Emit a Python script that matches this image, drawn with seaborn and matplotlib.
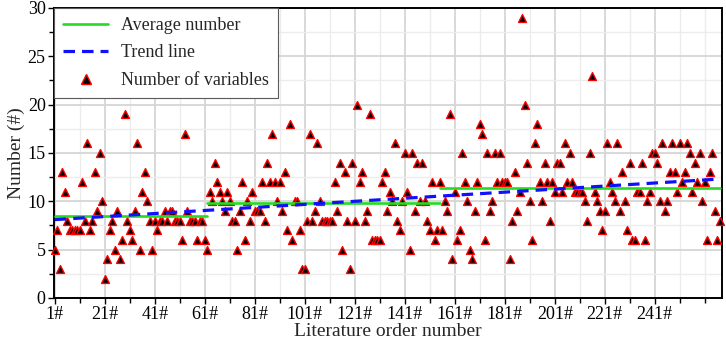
import numpy as np
import pandas as pd
import matplotlib
matplotlib.use('Agg')
import matplotlib.pyplot as plt
import seaborn as sns
from matplotlib.lines import Line2D
from matplotlib.ticker import FixedLocator, MultipleLocator

# number of variables per paper (order 1# .. 267#)
variables = [5, 7, 3, 13, 11, 8, 7, 7, 7, 7, 7, 12, 8, 16, 7, 8, 13, 9, 15, 10, 2,
             4, 7, 8, 5, 9, 4, 6, 19, 8, 7, 6, 9, 16, 5, 11, 13, 10, 8, 5, 8, 7, 8,
             8, 9, 8, 9, 9, 8, 8, 8, 6, 17, 9, 8, 8, 8, 6, 8, 8, 6, 5, 11, 10, 14,
             12, 11, 10, 9, 11, 10, 8, 8, 5, 9, 12, 6, 10, 8, 11, 9, 9, 9, 12, 8, 14, 12, 17,
             12, 10, 12, 9, 13, 7, 18, 6, 10, 10, 7, 3, 3, 8, 17, 8, 9, 16, 10, 8, 8, 8, 8,
             8, 12, 9, 14, 5, 13, 8, 3, 14, 8, 20, 12, 13, 8, 9, 19, 6, 6, 6, 6, 12, 13, 9,
             11, 10, 16, 8, 7, 10, 15, 11, 5, 15, 9, 14, 10, 14, 10, 8, 7, 12, 6, 7, 12, 7,
             10, 9, 19, 4, 11, 6, 7, 15, 12, 10, 5, 4, 9, 12, 18, 17, 6, 15, 9, 10, 15, 12,
             15, 12, 12, 12, 4, 8, 13, 9, 11, 29, 20, 14, 10, 6, 16, 18, 12, 10, 14, 12, 8, 12, 11,
             14, 14, 11, 16, 12, 15, 12, 11, 11, 11, 11, 10, 8, 15, 23, 11, 10, 9, 7, 9, 16, 12,
             11, 10, 16, 9, 13, 10, 7, 14, 6, 6, 11, 11, 14, 6, 10, 11, 15, 15, 14, 10, 16, 9,
             10, 13, 16, 13, 11, 16, 12, 13, 16, 15, 11, 14, 12, 15, 10, 12, 6, 13, 15, 9, 6, 8]
order = np.arange(1, len(variables) + 1)

# average number per group of papers
avg_start = [1, 62, 155]
avg_end = [62, 155, 267]
avg_value = [8.5, 9.8, 11.4]

# trend line end points
trend_x = [1, 267]
trend_y = [8.1, 12.3]

x_ticks = [1, 21, 41, 61, 81, 101, 121, 141, 161, 181, 201, 221, 241]
x_labels = ['1#', '21#', '41#', '61#', '81#', '101#', '121#', '141#', '161#',
            '181#', '201#', '221#', '241#']

sns.set_theme(style='white')
plt.rcParams['font.family'] = ['Liberation Serif', 'DejaVu Serif']

green = '#22dd22'
blue = '#1010ff'

fig, ax = plt.subplots(figsize=(7.26, 3.46), dpi=100)
fig.subplots_adjust(left=0.0744, right=0.9945, top=0.977, bottom=0.139)

df = pd.DataFrame({'order': order, 'variables': variables})
sns.scatterplot(data=df, x='order', y='variables', marker='^', color='black',
                edgecolor='red', linewidth=1, s=32, ax=ax, zorder=3,
                clip_on=False, legend=False)

for s, e, v in zip(avg_start, avg_end, avg_value):
    sns.lineplot(x=[s, e], y=[v, v], color=green, linewidth=1.9, ax=ax,
                 zorder=4, legend=False)

sns.lineplot(x=trend_x, y=trend_y, color=blue, linewidth=2.3,
             linestyle=(0, (3.6, 2.2)), ax=ax, zorder=5, legend=False)

ax.set_xlim(0.7, 267.9)
ax.set_ylim(0, 30)
ax.xaxis.set_major_locator(FixedLocator(x_ticks))
ax.xaxis.set_minor_locator(MultipleLocator(10, offset=1))
ax.set_xticklabels(x_labels)
ax.yaxis.set_major_locator(MultipleLocator(5))
ax.yaxis.set_minor_locator(MultipleLocator(2.5))

ax.set_axisbelow(True)
ax.grid(which='major', color='#d6d6d6', linewidth=1.3)
ax.grid(which='minor', color='#ececec', linewidth=1.0)

ax.tick_params(which='both', direction='out', width=1.0, colors='black',
               labelsize=13, pad=2, bottom=True, left=True)
ax.tick_params(which='major', length=4)
ax.tick_params(which='minor', length=3.5)
for sp in ax.spines.values():
    sp.set_color('black')
    sp.set_linewidth(1.4)

ax.set_xlabel('Literature order number', fontsize=14, labelpad=0)
ax.set_ylabel('Number (#)', fontsize=14, labelpad=2)

handles = [Line2D([], [], color=green, linewidth=1.9),
           Line2D([], [], color=blue, linewidth=2.3, linestyle=(0, (3.6, 2.2))),
           Line2D([], [], marker='^', color='black', markeredgecolor='red',
                  markeredgewidth=1, markersize=7, linestyle='none')]
labels = ['Average number', 'Trend line', 'Number of variables']
leg = ax.legend(handles, labels, loc='upper left', bbox_to_anchor=(0, 1),
                borderaxespad=0, frameon=True, fancybox=False, framealpha=1,
                edgecolor='0.35', fontsize=13, handlelength=2.5,
                handletextpad=0.7, labelspacing=0.58, borderpad=0.5)
leg.get_frame().set_linewidth(0.8)
leg.set_zorder(10)

plt.savefig('out.png', dpi=100)
